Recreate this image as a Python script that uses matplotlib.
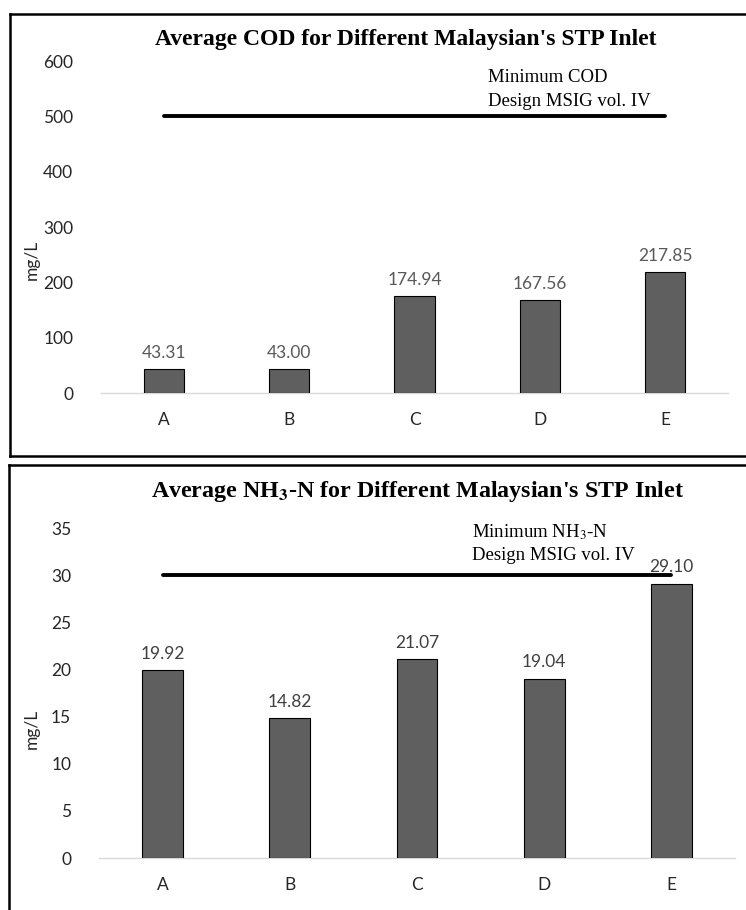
import matplotlib
matplotlib.use("Agg")
import matplotlib.pyplot as plt
from matplotlib.lines import Line2D

plt.rcParams['mathtext.fontset'] = 'stix'

stations = ['A', 'B', 'C', 'D', 'E']
cod_avg = [43.31, 43.00, 174.94, 167.56, 217.85]
nh3_avg = [19.92, 14.82, 21.07, 19.04, 29.10]

cod_limit = 500
nh3_limit = 30

BAR_COLOR = '#5f5f5f'
TICK_FONT = 'Lato'
SERIF = 'Liberation Serif'

W, H = 746, 910  # figure size in pixels


def draw_panel(ax, values, limit, ymax, ystep, note, note_xy, label_xy, value_color):
    x = range(len(values))
    ax.bar(x, values, width=0.32, color=BAR_COLOR, edgecolor='black', linewidth=0.8, zorder=3)
    for xi, v in zip(x, values):
        ax.annotate(f'{v:.2f}', (xi, v), xytext=(0, 6), textcoords='offset points',
                    ha='center', va='bottom', fontsize=12.5, family=TICK_FONT, color=value_color)

    # design minimum drawn as a flat line from first to last station
    ax.plot([0, len(values) - 1], [limit, limit], color='black', linewidth=2.8, zorder=4,
            solid_capstyle='round')

    ax.set_xlim(-0.5, len(values) - 0.5)
    ax.set_ylim(0, ymax)
    ax.set_yticks(range(0, ymax + 1, ystep))
    ax.set_xticks(list(x))
    ax.set_xticklabels(stations)
    for side in ['top', 'right', 'left']:
        ax.spines[side].set_visible(False)
    ax.spines['bottom'].set_color('#d9d9d9')
    ax.spines['bottom'].set_linewidth(1.0)
    ax.tick_params(axis='both', length=0, labelsize=12.5, labelcolor='#262626')
    ax.tick_params(axis='x', pad=14)
    ax.tick_params(axis='y', pad=20)
    for lbl in ax.get_xticklabels() + ax.get_yticklabels():
        lbl.set_family(TICK_FONT)
    ax.set_ylabel('mg/L', fontsize=12.5, family=TICK_FONT, color='#262626')
    ax.yaxis.set_label_coords(*label_xy)

    # two-line note above the design line, placed in figure pixels
    nx, ny = note_xy
    for i, line in enumerate(note):
        fig.text(nx / W, 1 - (ny + i * 24) / H, line, fontsize=13.5, family=SERIF,
                 ha='left', va='center')


fig = plt.figure(figsize=(7.46, 9.10), dpi=100)

ax1 = fig.add_axes([0.1354, 0.5681, 0.8405, 0.3648])
draw_panel(ax1, cod_avg, cod_limit, 600, 100,
           ['Minimum COD', 'Design MSIG vol. IV'], (488, 77), (-0.097, 0.40), '#595959')
fig.text(406 / W, 1 - 40 / H, "Average COD for Different Malaysian's STP Inlet",
         fontsize=17, family=SERIF, fontweight='bold', ha='center', va='center')

ax2 = fig.add_axes([0.1327, 0.0571, 0.8525, 0.3626])
draw_panel(ax2, nh3_avg, nh3_limit, 35, 5,
           ['Minimum NH$_3$-N', 'Design MSIG vol. IV'], (472, 532), (-0.093, 0.39), '#404040')
fig.text(418 / W, 1 - 492 / H, r"Average NH$_\mathbf{3}$-N for Different Malaysian's STP Inlet",
         fontsize=17.3, family=SERIF, fontweight='bold', ha='center', va='center')

# panel frames (open on the right / bottom where the page cuts them)
frame = dict(color='black', linewidth=1.8)
for x0, y0, y1, closed in [(10, 14, 456, True), (9, 465, 915, False)]:
    fig.add_artist(Line2D([x0 / W, x0 / W], [1 - y0 / H, 1 - y1 / H], **frame))
    fig.add_artist(Line2D([x0 / W, 1.01], [1 - y0 / H, 1 - y0 / H], **frame))
    if closed:
        fig.add_artist(Line2D([x0 / W, 1.01], [1 - y1 / H, 1 - y1 / H], **frame))

fig.savefig('out.png', dpi=100)
